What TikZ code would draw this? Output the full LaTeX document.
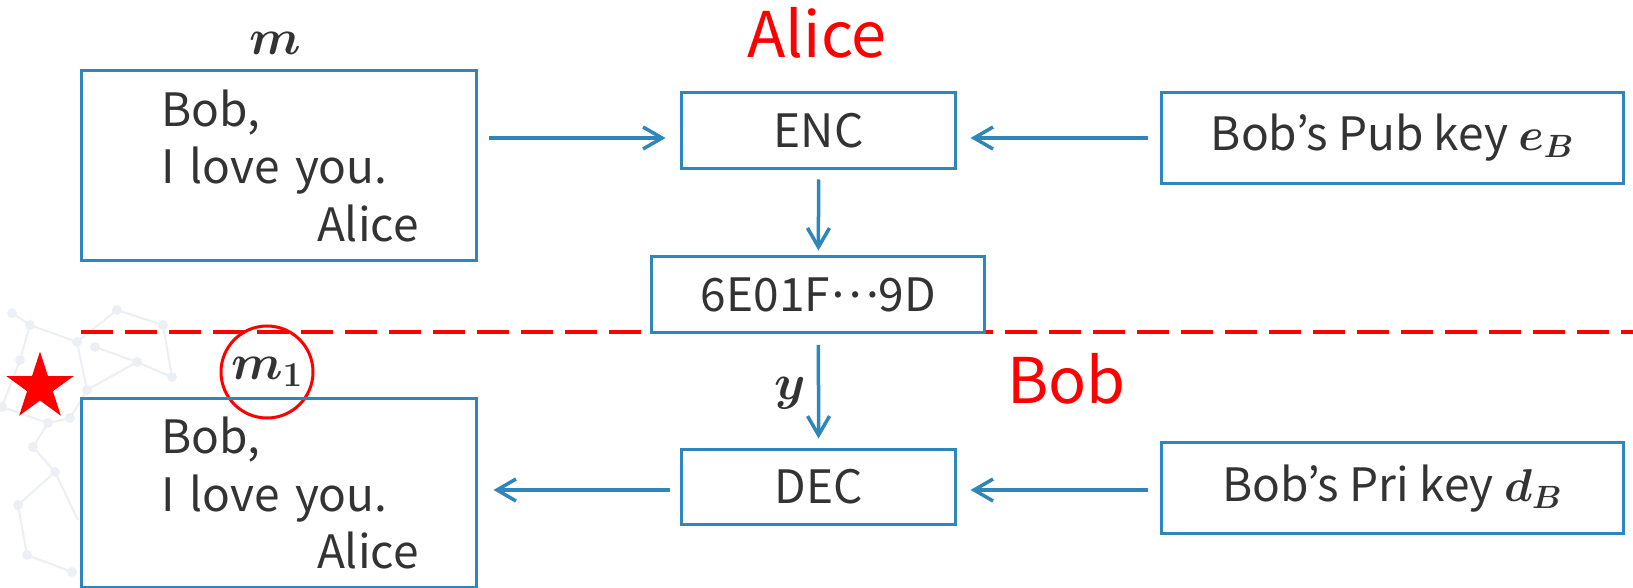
\RequirePackage{fix-cm}
\documentclass[tikz,border=0pt]{standalone}
\usepackage{bm}
\usepackage{fontspec}
\setmainfont{Noto Sans CJK KR}
\usetikzlibrary{arrows.meta,shapes.geometric,calc}
\definecolor{myblue}{RGB}{46,134,186}
\definecolor{txt}{RGB}{51,51,51}
\definecolor{hexgray}{RGB}{236,239,243}
\tikzset{
  box/.style={draw=myblue, line width=3pt, rectangle, inner sep=0pt, text=txt,
    font={\fontsize{46}{57.5}\selectfont}},
  letterbox/.style={box, minimum width=395pt, minimum height=189pt, text width=395pt, align=left},
  keybox/.style={box, minimum width=462.5pt, minimum height=91pt},
  arr/.style={draw=myblue, line width=3.5pt, -{Straight Barb[length=19pt, width=22pt]}},
  redtitle/.style={text=red, font={\fontsize{63}{70}\selectfont}, inner sep=0pt},
  mathlbl/.style={text=txt, font={\fontsize{50}{54}\selectfont}, inner sep=0pt},
  dashline/.style={draw=red, line width=4.5pt, dash pattern=on 32pt off 12pt},
}
\begin{document}
\begin{tikzpicture}[x=1pt,y=-1pt]
\useasboundingbox (0,0) rectangle (1633,588);
% faint background pattern
\begin{scope}[hexgray, line width=2pt]
  \draw (12,313)--(30,325)--(77,342)--(117,310)--(163,325)--(172,377);
  \draw (77,342)--(87,390)--(70,418)--(48,423)--(33,447)--(55,472)--(18,505);
  \draw (30,325)--(20,360)--(2,407);
  \draw (95,347)--(137,362)--(172,377);
  \draw (87,390)--(137,362);
  \draw (48,423)--(2,407);
  \draw (18,505)--(27,555)--(72,572);
  \draw (55,472)--(78,520);
  \foreach \p in {(12,313),(30,325),(77,342),(117,310),(163,325),(95,347),(137,362),(172,377),(20,360),(87,390),(48,423),(70,418),(55,472),(33,447),(18,505),(27,555),(72,572),(2,407)}
    \fill \p circle (5pt);
\end{scope}
% dashed separator
\coordinate (dl) at (81,332);
\coordinate (dr) at (1633,332);
\draw[dashline] (dl) -- (dr);
% titles
\node[redtitle, anchor=base] (alice) at (817,58) {Alice};
\node[redtitle, anchor=base west] (bob) at (1007,403.3) {Bob};
% top row
\node[mathlbl] (mlbl) at (275,43) {$\bm{m}$};
\node[letterbox] (mbox) at (278.5,165.5) {\hspace*{80pt}Bob,\\\hspace*{80pt}I love you.\\\hspace*{236pt}Alice};
\node[box, minimum width=274.3pt, minimum height=75.6pt] (enc) at (818.6,130.5) {ENC};
\node[keybox] (pub) at (1392.3,138) {Bob’s Pub key $\bm{e_B}$};
\node[box, fill=white, minimum width=333pt, minimum height=76pt] (ct) at (818.4,294.7) {6E01F\raisebox{0.3em}{…}9D};
% bottom row
\node[star, star points=5, star point ratio=2.618, fill=red, minimum size=71pt, inner sep=0pt] (star) at (40,387) {};
\node[circle, draw=red, line width=3pt, minimum size=92pt, inner sep=0pt, text=txt,
  font={\fontsize{50}{54}\selectfont}] (m1) at (267,372) {$\bm{m_1}$};
\node[letterbox] (mbox2) at (278.5,493) {\hspace*{80pt}Bob,\\\hspace*{80pt}I love you.\\\hspace*{236pt}Alice};
\node[box, minimum width=274.3pt, minimum height=75.3pt] (dec) at (818.6,486.7) {DEC};
\node[keybox] (pri) at (1392.3,488.3) {Bob’s Pri key $\bm{d_B}$};
\node[mathlbl] (ylbl) at (790,393) {$\bm{y}$};
% connectors
\draw[arr, shorten <=11.5pt, shorten >=14.4pt] (mbox.east |- pub.west) -- (enc.west |- pub.west);
\draw[arr, shorten <=12pt, shorten >=13.3pt] (pub.west) -- (enc.east |- pub.west);
\draw[arr, shorten <=9.7pt, shorten >=4.7pt] (enc.south) -- (ct.north);
\draw[arr, shorten <=10.6pt, shorten >=9pt] (ct.south) -- (dec.north);
\draw[arr, shorten <=12pt, shorten >=13.3pt] (pri.west |- 0,490) -- (dec.east |- 0,490);
\draw[arr, shorten <=10pt, shorten >=16pt] (dec.west |- 0,490) -- (mbox2.east |- 0,490);
\end{tikzpicture}
\end{document}
